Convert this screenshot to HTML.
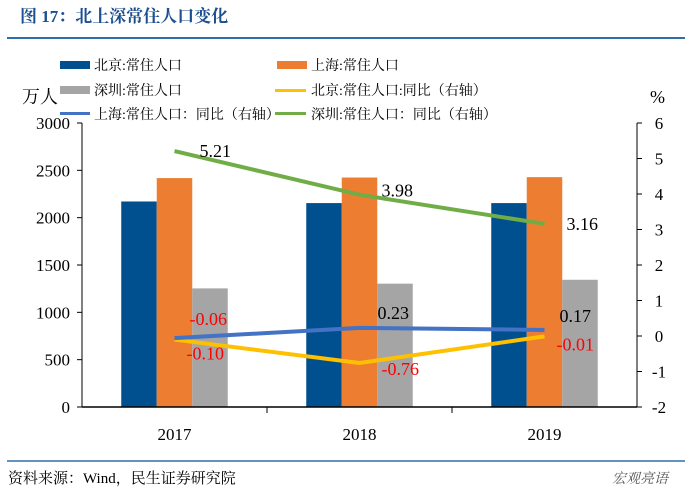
<!DOCTYPE html>
<html><head><meta charset="utf-8"><style>
body{margin:0;background:#fff;width:700px;height:496px;overflow:hidden;font-family:"Liberation Serif","Noto Serif CJK SC",serif;}
</style></head><body>
<svg width="700" height="496" style="position:absolute;left:0;top:0">
<text x="20" y="22" fill="#1c4f8f" font-size="17" font-weight="bold">图 17：北上深常住人口变化</text>
<line x1="7" y1="38" x2="685" y2="38" stroke="#2f6fae" stroke-width="2"/>
<g id="legend" font-size="14" fill="#000">
<rect x="60" y="61" width="30" height="8" fill="#00508f"/><text x="94" y="70">北京:常住人口</text>
<rect x="277" y="61" width="30" height="8" fill="#ed7d31"/><text x="311" y="70">上海:常住人口</text>
<rect x="60" y="86" width="30" height="8" fill="#a5a5a5"/><text x="94" y="95">深圳:常住人口</text>
<rect x="275" y="89" width="31" height="3" fill="#ffc000"/><text x="311" y="95">北京:常住人口:同比（右轴）</text>
<rect x="60" y="112" width="30" height="3" fill="#4472c4"/><text x="94" y="119">上海:常住人口：同比（右轴）</text>
<rect x="275" y="112" width="31" height="3" fill="#70ad47"/><text x="311" y="119">深圳:常住人口：同比（右轴）</text>
</g>
<text x="22" y="103" font-size="18">万人</text>
<text x="650" y="103" font-size="18">%</text>
<g id="plot"></g>
<line x1="7" y1="461" x2="685" y2="461" stroke="#2f6fae" stroke-width="1.5"/>
<text x="8" y="483" font-size="15">资料来源：Wind，民生证券研究院</text>
<text x="612" y="483" font-size="14" fill="#555" font-style="italic">宏观亮语</text>
</svg>
<script>
const years=["2017","2018","2019"];
const bjPop=[2171,2154,2154];
const shPop=[2418,2424,2428];
const szPop=[1253,1303,1344];
const bjYoy=[-0.10,-0.76,-0.01];
const shYoy=[-0.06,0.23,0.17];
const szYoy=[5.21,3.98,3.16];
const leftTicks=[0,500,1000,1500,2000,2500,3000];
const rightTicks=[-2,-1,0,1,2,3,4,5,6];
const NS="http://www.w3.org/2000/svg";
const g=document.getElementById('plot');
const X0=82,X1=637,Y0=407,Y1=123;
const yL=v=>Y0-(v/3000)*(Y0-Y1);
const yR=v=>Y0-((v+2)/8)*(Y0-Y1);
const cw=(X1-X0)/years.length;
const xc=i=>X0+cw*(i+0.5);
function mk(t,a,txt){const e=document.createElementNS(NS,t);for(const k in a)e.setAttribute(k,a[k]);if(txt!==undefined)e.textContent=txt;g.appendChild(e);return e;}
let e;
e=mk('line',{x1:X0,y1:Y1,x2:X0,y2:Y0,stroke:'#000'});


e=mk('line',{x1:X1,y1:Y1,x2:X1,y2:Y0,stroke:'#000'});


leftTicks.forEach(v=>{mk('line',{x1:X0-5,y1:yL(v),x2:X0,y2:yL(v),stroke:'#000'});
e=mk('text',{x:X0-12,y:yL(v)+6,'text-anchor':'end','font-size':17},v);

});
rightTicks.forEach(v=>{mk('line',{x1:X1,y1:yR(v),x2:X1+5,y2:yR(v),stroke:'#000'});
e=mk('text',{x:X1+22,y:yR(v)+6,'text-anchor':'middle','font-size':17},v);

});
const bw=35.5;
const series=[[bjPop,'#00508f','bar-beijing'],[shPop,'#ed7d31','bar-shanghai'],[szPop,'#a5a5a5','bar-shenzhen']];
years.forEach((y,i)=>{
 series.forEach((s,j)=>{const v=s[0][i];
  e=mk('rect',{x:xc(i)-1.5*bw+j*bw,y:yL(v),width:bw,height:Y0-yL(v),fill:s[1]});
  
  });
 e=mk('text',{x:xc(i),y:Y0+33,'text-anchor':'middle','font-size':17},y);
 
 
 if(i>0)mk('line',{x1:X0+cw*i,y1:Y0,x2:X0+cw*i,y2:Y0+6,stroke:'#000'});
});
e=mk('line',{x1:X0,y1:Y0,x2:X1,y2:Y0,stroke:'#000','stroke-width':1.5});


function line(d,col,name){e=mk('polyline',{points:d.map((v,i)=>xc(i)+','+yR(v)).join(' '),fill:'none',stroke:col,'stroke-width':4});

}
line(bjYoy,'#ffc000','line-beijing-yoy');
line(shYoy,'#4472c4','line-shanghai-yoy');
line(szYoy,'#70ad47','line-shenzhen-yoy');
function lab(d,dx,dy,name){d.forEach((v,i)=>{const s=v.toFixed(2);
 e=mk('text',{x:xc(i)+dx[i],y:yR(v)+dy[i],'font-size':18,fill:v<0?'#ff0000':'#000'},s);
 
 });}
lab(szYoy,[25,22,22],[6,2,6],'label-shenzhen-yoy');
lab(shYoy,[15,18,15],[-13,-9,-8],'label-shanghai-yoy');
lab(bjYoy,[12,22,12],[20,12,14],'label-beijing-yoy');
</script>
</body></html>
